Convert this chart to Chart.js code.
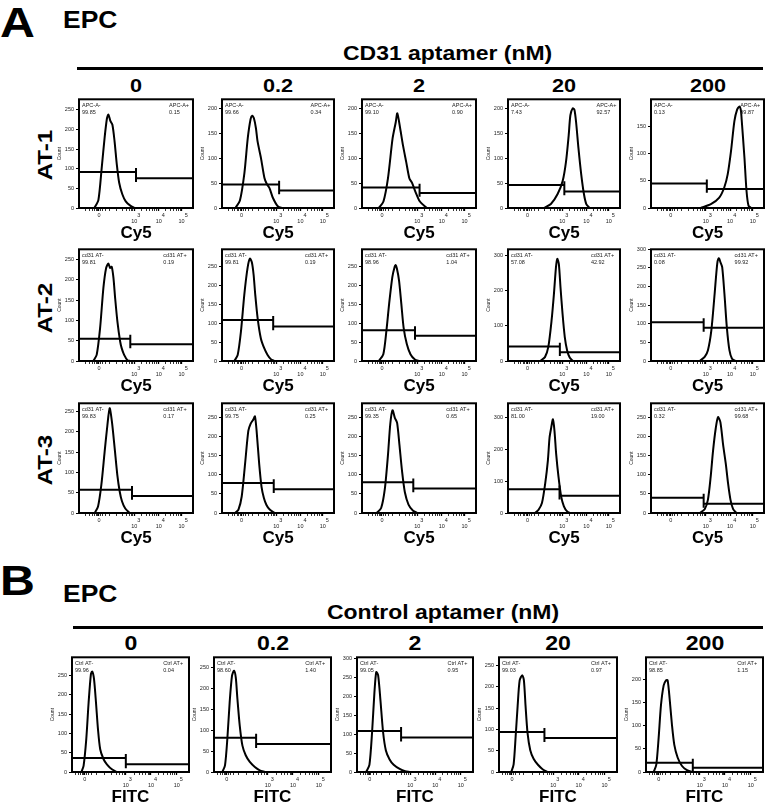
<!DOCTYPE html>
<html lang="en">
<head>
  <meta charset="UTF-8" />
  <title>EPC - CD31 / control aptamer binding</title>
  <script src="https://cdn.jsdelivr.net/npm/chart.js"></script>
  <style>
    body { margin: 0; background: #fff; }
    #fig {
      position: relative; width: 768px; height: 807px; overflow: hidden;
      font-family: "Liberation Sans", Arial, sans-serif; font-weight: bold; color: #000;
    }
    .t { position: absolute; white-space: nowrap; line-height: 1; transform-origin: left center; }
    .c { width: 100px; text-align: center; transform-origin: center center; }
    .rule { position: absolute; height: 3px; background: #000; }
    canvas { position: absolute; }
  </style>
</head>
<body>
<div id="fig">
  <div class="t" style="left:0;top:1.5px;font-size:42px;transform:scaleX(1.15)">A</div>
  <div class="t" style="left:63px;top:8.5px;font-size:23px;transform:scaleX(1.15)">EPC</div>
  <div class="t" style="left:343px;top:42.6px;font-size:20.5px;transform:scaleX(1.12)">CD31 aptamer (nM)</div>
  <div class="rule" style="left:77px;top:66.5px;width:686px"></div>
  <div class="t" style="left:0;top:559.5px;font-size:42px;transform:scaleX(1.15)">B</div>
  <div class="t" style="left:63px;top:582.5px;font-size:23px;transform:scaleX(1.15)">EPC</div>
  <div class="t" style="left:327px;top:601.6px;font-size:20.5px;transform:scaleX(1.12)">Control aptamer (nM)</div>
  <div class="rule" style="left:73px;top:625.5px;width:690px"></div>
</div>

<script>
  Chart.defaults.font.family = "'Liberation Sans', Arial, sans-serif";

  const concentrations = ["0", "0.2", "2", "20", "200"];

  // histogram outlines: [display channel (% of axis), count]
  // AT-1, APC
  const at1_0   = [[13.5,0],[17,20],[20,105],[22.5,180],[24.5,228],[25.8,238],[27.5,222],[29.3,212],[31.2,170],[33.2,110],[35.2,65],[38,35],[41,17],[45,6],[49,0]];
  const at1_02  = [[12,0],[16,15],[20,70],[23,140],[25.5,178],[27,185],[28.5,180],[30.3,160],[31.8,133],[34.8,100],[37.9,60],[40,48],[42.4,40],[45.5,20],[50,3],[54,0]];
  const at1_2   = [[14.8,0],[18.8,13],[22.8,60],[26.8,139],[29.6,172],[31,190],[33.6,158],[36,125],[38.8,92],[41.6,59],[44,50],[46.8,33],[50.8,13],[56.8,0]];
  const at1_20  = [[32.2,0],[38.3,8],[44.3,28],[48.8,54],[51.8,93],[54.2,146],[55.7,186],[57.8,200],[59.3,197],[60.8,172],[62.9,120],[65.4,67],[67.8,28],[69.9,8],[72.9,0]];
  const at1_200 = [[44,0],[53,7],[60.4,19],[64.9,38],[67.9,62],[70.8,104],[73.8,159],[76.2,180],[78.3,186],[79.6,178],[80.2,163],[82.7,92],[84.5,32],[86.3,4],[88.7,0]];
  // AT-2, cd31 AT
  const at2_0   = [[12.6,0],[15.5,15],[18.5,81],[21.4,180],[23.8,229],[25.8,240],[27.3,229],[28.7,232],[30.2,205],[31.7,155],[33.7,97],[36.1,48],[37.5,31],[39.6,15],[42.5,2],[44.9,0]];
  const at2_02  = [[11,0],[14,16],[16.9,78],[19.9,176],[22.8,247],[24.9,272],[26.7,262],[28.2,230],[29.7,176],[31.8,114],[34.7,60],[37.7,34],[40.7,16],[43.6,5],[46.6,0]];
  const at2_2   = [[14.7,0],[18.7,18],[21.4,80],[23.8,152],[26.6,223],[28.6,250],[29.5,255],[30.6,246],[32.5,214],[34.5,152],[36.5,89],[39.3,45],[42.5,18],[46.4,4],[50.4,0]];
  const at2_20  = [[28.6,0],[33,11],[36,40],[38.9,115],[41,190],[42.8,265],[44,290],[45.4,275],[46.9,208],[48.7,134],[50.7,68],[52.8,30],[55.2,9],[58.1,0]];
  const at2_200 = [[43.1,0],[47.5,11],[50.4,29],[53.4,82],[56.3,180],[58.6,261],[60,276],[61.5,265],[63,252],[65,180],[67.1,91],[69.4,29],[71.7,6],[74.6,0]];
  // AT-3, cd31 AT
  const at3_0   = [[13.7,0],[16.7,16],[19.6,69],[22.5,151],[24.9,216],[26.9,258],[28.9,224],[31.3,159],[33.6,94],[35.7,53],[37.7,29],[40.6,11],[44.4,0]];
  const at3_02  = [[11.8,0],[14.7,9],[17.6,43],[20.6,128],[23.5,214],[25.6,233],[28,244],[29.4,252],[30.9,214],[33.2,128],[35.3,68],[37.4,39],[39.7,21],[42.6,9],[47,0]];
  const at3_2   = [[12.8,0],[16.8,13],[20,62],[22.8,152],[24.8,232],[26.8,268],[28.8,248],[30.8,235],[32.8,179],[35.2,107],[37.6,54],[40.8,22],[44.8,6],[48.8,0]];
  const at3_20  = [[24.3,0],[27.3,10],[30.3,31],[33.2,92],[35.6,164],[37.1,236],[38.6,267],[40.1,293],[41.5,257],[43,185],[45.1,113],[47.5,51],[49.9,21],[52.8,5],[55.5,0]];
  const at3_200 = [[43,0],[47.5,10],[50.4,35],[52.8,94],[54.9,162],[57.3,221],[59.3,250],[61.4,237],[63.8,178],[66.2,128],[68.2,77],[70.3,35],[72.7,10],[75.7,0]];
  // control aptamer, FITC
  const ctrl_0   = [[8,0],[9.9,16],[12.2,85],[14.2,180],[16.2,254],[17.3,260],[18.8,241],[20.5,180],[22.2,111],[24.1,59],[27,33],[29.8,20],[34.1,7],[38.4,0]];
  const ctrl_02  = [[7.1,0],[9.4,16],[11.4,79],[13.4,167],[15.4,230],[17.1,242],[18.6,226],[20,175],[22,111],[24.3,63],[27.1,40],[30.6,24],[34.9,12],[39.1,4],[43.4,0]];
  const ctrl_2   = [[7.9,0],[10.7,19],[13,105],[15,209],[16.6,264],[18.2,256],[20.2,190],[22.5,105],[24.9,57],[28.1,33],[31.6,19],[36.8,8],[41.5,2],[45.5,0]];
  const ctrl_20  = [[10.4,0],[12.4,18],[14.1,83],[15.8,155],[17.5,215],[19.7,227],[21.1,215],[22.5,155],[24.2,91],[26.5,51],[29.3,31],[33,17],[37.2,6],[41.4,0]];
  const ctrl_200 = [[6.6,0],[8.8,16],[10.8,74],[12.8,145],[15.1,188],[17.1,199],[18.5,199],[20.2,159],[22.2,102],[24.2,59],[27.1,31],[30.8,13],[35,4],[39.3,0]];

  // gate markers: [left marker count, threshold channel, right marker count]
  const at1Gate  = [[92,50,76],[47,51,35],[41,50.5,30],[46,50.3,33],[45,49.4,35]];
  const at2Gate  = [[55,45,41],[109,45.7,92],[82,46.5,67],[41,46.3,25],[104,46.6,89]];
  const at3Gate  = [[57,46.5,42],[78,46.2,62],[80,45,64],[74,46,54],[40,46.6,24]];
  const ctrlGate = [[36,46,20],[82,36,67],[108,38,91],[94,38.5,80],[20,40,9]];

  // gate percentages
  const at1Neg  = ["99.85","99.66","99.10","7.43","0.13"];
  const at1Pos  = ["0.15","0.34","0.90","92.57","99.87"];
  const at2Neg  = ["99.81","99.81","98.96","57.08","0.08"];
  const at2Pos  = ["0.19","0.19","1.04","42.92","99.92"];
  const at3Neg  = ["99.83","99.75","99.35","81.00","0.32"];
  const at3Pos  = ["0.17","0.25","0.65","19.00","99.68"];
  const ctrlNeg = ["99.96","98.60","99.05","99.03","98.85"];
  const ctrlPos = ["0.04","1.40","0.95","0.97","1.15"];

  // count axis tops
  const at1Max  = [277, 218, 218, 218, 199];
  const at2Max  = [275, 297, 297, 317, 300];
  const at3Max  = [270, 286, 286, 343, 286];
  const ctrlMax = [297, 274, 303, 269, 249];

  // biexponential display axis: tick positions and labels
  const decadeLabels = [["0"], ["      3", "10"], ["      4", "10"], ["      5", "10"]];
  const cy5Major  = [17.5, 48.5, 70, 90];
  const cy5Minor  = [6, 9, 11.5, 13.5, 15, 16.5, 19, 21, 23.5, 27, 33, 38, 41.5, 44, 46, 47.2, 55, 59, 62, 64.5, 66.5, 68.2, 76, 80, 83, 85.5, 87, 88.6];
  const fitcMajor = [11, 46, 67.5, 89.5];
  const fitcMinor = [3, 5.5, 7.5, 9, 10, 12, 14, 17, 21, 28, 34, 38, 41, 43, 44.8, 53, 57.5, 60.5, 63, 65, 66.3, 74, 78, 81.5, 84, 86, 87.8];

  // ---- layout ----
  const fig = document.getElementById("fig");
  const Y_W = 22, PAD_T = 4, PAD_R = 3, X_H = 34;
  const colXA = [79, 222, 362, 508, 651], colWA = [114, 112, 114, 112, 113];
  const rowTopA = [98, 248, 402], rowHA = [110, 113, 111];
  const rowMidA = [155, 308, 460];
  const colXB = [72, 214, 357, 499, 646], colWB = [117, 117, 116, 118, 117];
  const topB = 656, hB = 116;

  function text(str, css, cls) {
    const d = document.createElement("div");
    d.className = cls;
    d.style.cssText = css;
    d.textContent = str;
    fig.appendChild(d);
  }

  function panel(box, spec, axis) {
    const W = box.w + Y_W + PAD_R, H = box.h + PAD_T + X_H;
    const cv = document.createElement("canvas");
    cv.width = W; cv.height = H;
    cv.style.cssText = `left:${box.x - Y_W}px;top:${box.y - PAD_T}px;width:${W}px;height:${H}px`;
    fig.appendChild(cv);

    const [hi, cut, lo] = spec.gate;
    const lift = spec.max * 0.035;
    const gate = [[0, hi], [cut, hi], [cut, hi + lift], [cut, lo - lift], [cut, lo], [100, lo]];
    const xy = pts => pts.map(p => ({ x: p[0], y: p[1] }));
    const step = spec.max > 310 ? 100 : 50;
    const yTicks = [];
    for (let v = 0; v <= spec.max; v += step) yTicks.push(v);

    new Chart(cv, {
      type: "line",
      data: {
        datasets: [
          { data: xy(spec.curve), borderColor: "#000", borderWidth: 2, pointRadius: 0, tension: 0.25, fill: false },
          { data: xy(gate), borderColor: "#000", borderWidth: 2, pointRadius: 0, tension: 0, fill: false }
        ]
      },
      options: {
        responsive: false, animation: false, events: [],
        layout: { padding: { top: PAD_T, right: PAD_R, left: 0, bottom: 0 } },
        plugins: { legend: { display: false }, tooltip: { enabled: false } },
        scales: {
          x: {
            type: "linear", min: 0, max: 100,
            afterBuildTicks: s => { s.ticks = axis.major.concat(axis.minor).map(v => ({ value: v })); },
            afterFit: s => { s.height = X_H; },
            border: { display: false },
            grid: {
              drawOnChartArea: false, tickLength: 3, color: "#000",
              tickWidth: c => (c.tick && axis.major.includes(c.tick.value)) ? 1.3 : 0.8
            },
            ticks: {
              autoSkip: false, maxRotation: 0, minRotation: 0, padding: 1, color: "#222",
              font: { size: 5.5 },
              callback: v => { const i = axis.major.indexOf(v); return i < 0 ? "" : decadeLabels[i]; }
            },
            title: { display: true, text: spec.channel, color: "#000", padding: 0, font: { size: 17, weight: "bold", lineHeight: 1 } }
          },
          y: {
            min: 0, max: spec.max,
            afterBuildTicks: s => { s.ticks = yTicks.map(v => ({ value: v })); },
            afterFit: s => { s.width = Y_W; },
            border: { display: false },
            grid: { drawOnChartArea: false, tickLength: 3, color: "#000", tickWidth: 1 },
            ticks: { padding: 2, color: "#222", font: { size: 5.5 } },
            title: { display: true, text: "Count", color: "#222", padding: 0, font: { size: 5 } }
          }
        }
      },
      plugins: [{
        id: "frame",
        afterDatasetsDraw(chart) {
          const { ctx, chartArea: a } = chart;
          ctx.save();
          ctx.strokeStyle = "#000";
          ctx.lineWidth = 2;
          ctx.strokeRect(a.left, a.top, a.width, a.height);
          ctx.font = "5.5px 'Liberation Sans', Arial, sans-serif";
          ctx.fillStyle = "#222";
          ctx.textBaseline = "middle";
          ctx.fillText(spec.tags[0], a.left + 3, a.top + 6);
          ctx.fillText(spec.neg, a.left + 3, a.top + 13);
          const px = a.left + a.width * spec.tagAt;
          ctx.fillText(spec.tags[1], px, a.top + 6);
          ctx.fillText(spec.pos, px, a.top + 13);
          ctx.restore();
        }
      }]
    });
  }

  const rowsA = [
    { name: "AT-1", curves: [at1_0, at1_02, at1_2, at1_20, at1_200], gates: at1Gate, max: at1Max, neg: at1Neg, pos: at1Pos, tags: ["APC-A-", "APC-A+"], tagAt: 0.79 },
    { name: "AT-2", curves: [at2_0, at2_02, at2_2, at2_20, at2_200], gates: at2Gate, max: at2Max, neg: at2Neg, pos: at2Pos, tags: ["cd31 AT-", "cd31 AT+"], tagAt: 0.74 },
    { name: "AT-3", curves: [at3_0, at3_02, at3_2, at3_20, at3_200], gates: at3Gate, max: at3Max, neg: at3Neg, pos: at3Pos, tags: ["cd31 AT-", "cd31 AT+"], tagAt: 0.74 }
  ];

  // panel A
  concentrations.forEach((c, j) => {
    const cx = colXA[j] + colWA[j] / 2;
    text(c, `left:${cx - 50}px;top:75.9px;font-size:19px;transform:scaleX(1.14)`, "t c");
  });
  rowsA.forEach((row, i) => {
    text(row.name, `left:44px;top:${rowMidA[i]}px;font-size:21px;transform-origin:center center;transform:translate(-50%,-50%) rotate(-90deg) scaleX(1.15)`, "t");
    concentrations.forEach((c, j) => {
      panel(
        { x: colXA[j], y: rowTopA[i], w: colWA[j], h: rowHA[i] },
        { curve: row.curves[j], gate: row.gates[j], max: row.max[j], neg: row.neg[j], pos: row.pos[j],
          tags: row.tags, tagAt: row.tagAt, channel: "Cy5" },
        { major: cy5Major, minor: cy5Minor }
      );
    });
  });

  // panel B
  const ctrlCurves = [ctrl_0, ctrl_02, ctrl_2, ctrl_20, ctrl_200];
  concentrations.forEach((c, j) => {
    const cx = colXB[j] + colWB[j] / 2;
    text(c, `left:${cx - 50}px;top:632.2px;font-size:21px;transform:scaleX(1.1)`, "t c");
    panel(
      { x: colXB[j], y: topB, w: colWB[j], h: hB },
      { curve: ctrlCurves[j], gate: ctrlGate[j], max: ctrlMax[j], neg: ctrlNeg[j], pos: ctrlPos[j],
        tags: ["Ctrl AT-", "Ctrl AT+"], tagAt: 0.78, channel: "FITC" },
      { major: fitcMajor, minor: fitcMinor }
    );
  });
</script>
</body>
</html>
